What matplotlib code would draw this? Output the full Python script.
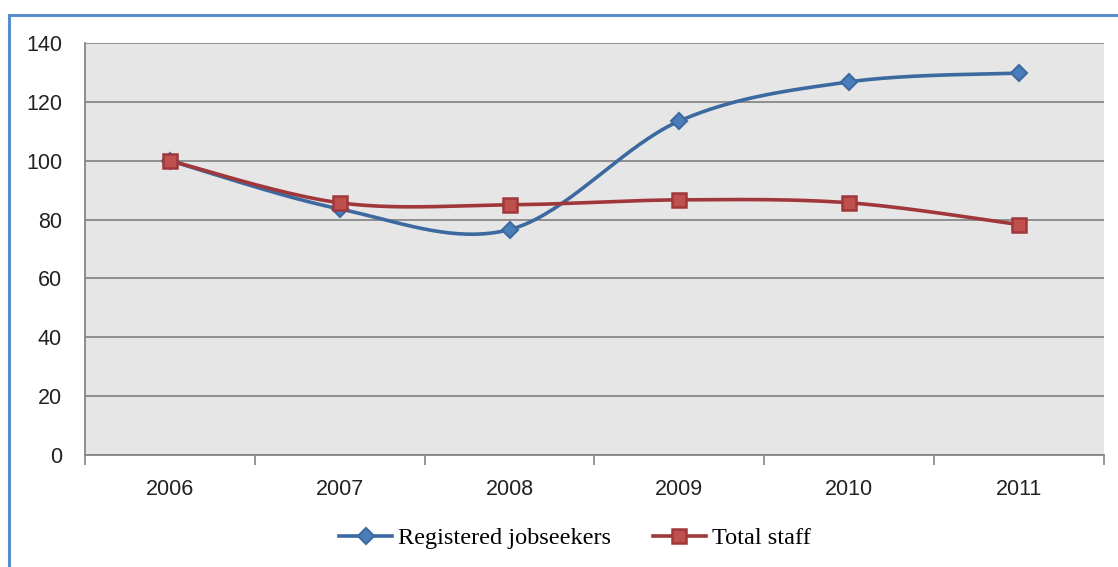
import numpy as np
import matplotlib.pyplot as plt
from matplotlib.lines import Line2D
from matplotlib.patches import Rectangle

years = ["2006", "2007", "2008", "2009", "2010", "2011"]
jobseekers = [100, 83.6, 76.6, 113.5, 126.8, 129.8]
total_staff = [100, 85.7, 85.0, 86.7, 85.7, 78.3]


def smooth(y, n=40):
    # Excel-style smoothed line: cubic Bezier segments with Catmull-Rom handles
    x = np.arange(len(y), dtype=float)
    y = np.asarray(y, dtype=float)
    pts = np.column_stack([x, y])
    padded = np.vstack([pts[0], pts, pts[-1]])
    t = np.linspace(0, 1, n)[:, None]
    out = []
    for i in range(len(pts) - 1):
        p0, p1, p2, p3 = padded[i], padded[i + 1], padded[i + 2], padded[i + 3]
        c1 = p1 + (p2 - p0) / 6
        c2 = p2 - (p3 - p1) / 6
        seg = ((1 - t) ** 3) * p1 + 3 * ((1 - t) ** 2) * t * c1 + 3 * (1 - t) * t ** 2 * c2 + t ** 3 * p2
        out.append(seg if i == 0 else seg[1:])
    seg = np.vstack(out)
    return seg[:, 0], seg[:, 1]


blue = "#3C6AA0"
blue_face = "#4A7EBB"
red = "#A0373A"
red_face = "#C0504D"

fig = plt.figure(figsize=(11.18, 5.67), dpi=100)
ax = fig.add_axes([85 / 1118, 1 - 455 / 567, 1019 / 1118, 412 / 567])
ax.set_facecolor("#E6E6E6")

# outer chart border
fig.patches.append(Rectangle((9 / 1118, -0.05), 1.2, 1 - 15 / 567 + 0.05,
                             transform=fig.transFigure, fill=False,
                             edgecolor="#5B8CCB", linewidth=2.2))

x = np.arange(len(years))
sx, sy = smooth(jobseekers)
ax.plot(sx, sy, color=blue, lw=2.6, zorder=3)
ax.plot(x, jobseekers, ls="none", marker="D", ms=8, mfc=blue_face, mec=blue, mew=1.5, zorder=4)
sx, sy = smooth(total_staff)
ax.plot(sx, sy, color=red, lw=2.6, zorder=3)
ax.plot(x, total_staff, ls="none", marker="s", ms=10, mfc=red_face, mec=red, mew=1.8, zorder=5)

ax.set_xlim(-0.5, 5.5)
ax.set_ylim(0, 140)
ax.set_yticks(range(0, 141, 20))
ax.yaxis.grid(True, color="#878787", lw=1.3)
ax.set_axisbelow(True)
ax.set_xticks(np.arange(-0.5, 5.6, 1))
ax.set_xticklabels([])
ax.set_xticks(x, minor=True)
ax.set_xticklabels(years, minor=True)
ax.tick_params(axis="x", which="major", length=7, color="#868686", width=1.2, direction="out")
ax.tick_params(axis="x", which="minor", length=0, pad=17, labelsize=15.5)
ax.tick_params(axis="y", length=0, pad=16.5, labelsize=15.5)
for lab in ax.get_xticklabels(minor=True) + ax.get_yticklabels():
    lab.set_fontfamily("Liberation Sans")
    lab.set_color("#222222")

ax.spines["top"].set_visible(False)
ax.spines["right"].set_visible(False)
for s in ("left", "bottom"):
    ax.spines[s].set_color("#868686")
    ax.spines[s].set_linewidth(1.3)

handles = [
    Line2D([], [], color=blue, lw=2.6, marker="D", ms=8, mfc=blue_face, mec=blue, mew=1.5),
    Line2D([], [], color=red, lw=2.6, marker="s", ms=10, mfc=red_face, mec=red, mew=1.8),
]
fig.legend(handles, ["Registered jobseekers", "Total staff"], loc="center",
           bbox_to_anchor=(575 / 1118, 1 - 538 / 567), ncol=2, frameon=False,
           prop={"family": "Liberation Serif", "size": 17.5}, handlelength=2.2,
           handletextpad=0.25, columnspacing=1.7)

fig.savefig("out.png", dpi=100)
